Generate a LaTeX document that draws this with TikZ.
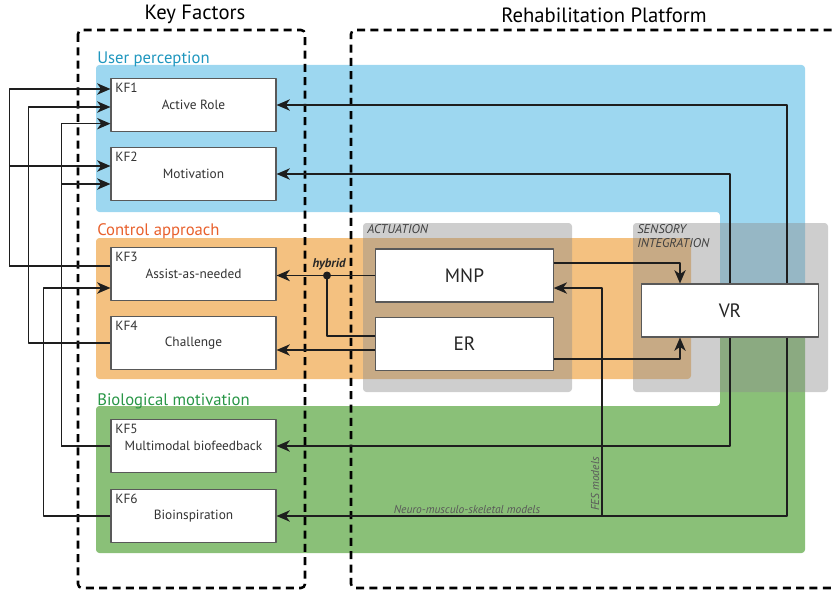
\documentclass[tikz,border=0pt]{standalone}
\usepackage{fontspec}
\setmainfont{PT Sans}
\usetikzlibrary{arrows.meta}
\definecolor{userblue}{RGB}{157,215,240}
\definecolor{ctrlorange}{RGB}{244,193,128}
\definecolor{biogreen}{RGB}{138,192,120}
\definecolor{usertext}{RGB}{30,150,190}
\definecolor{ctrltext}{RGB}{232,96,44}
\definecolor{biotext}{RGB}{40,150,70}
\definecolor{platgray}{RGB}{141,141,141}
\definecolor{wireblack}{RGB}{30,30,30}
\tikzset{
  kfbox/.style={draw=black!65,fill=white,line width=0.8pt,minimum width=123.75pt,minimum height=39.75pt,
    font=\fontsize{10}{11}\selectfont,text=black!80},
  kflabel/.style={anchor=north west,inner sep=3.5pt,font=\fontsize{10}{11}\selectfont,text=black!80},
  platbox/.style={draw=black!65,fill=white,line width=0.8pt,minimum width=133pt,minimum height=39.75pt,
    font=\fontsize{14.5}{16}\selectfont,text=black!85},
  zonelabel/.style={anchor=west,inner sep=0pt,font=\fontsize{12.5}{14}\selectfont},
  sublabel/.style={anchor=north west,inner sep=0pt,align=left,font=\fontsize{9.5}{10.5}\selectfont\itshape,text=black!75},
  modlabel/.style={inner sep=0pt,font=\fontsize{8.6}{9}\selectfont\itshape,text=black!65},
  titletext/.style={font=\fontsize{15.5}{17}\selectfont},
  wire/.style={draw=wireblack,line width=1.1pt},
  conn/.style={wire,-{Stealth[length=10pt,width=8.5pt,inset=3pt]}},
  groupframe/.style={draw=black,line width=1.9pt,dash pattern=on 6pt off 4pt,rounded corners=3pt}
}
\begin{document}
\begin{tikzpicture}[x=0.75pt,y=-0.75pt,line join=round]
\useasboundingbox (0,0) rectangle (833,592);
% zones
\fill[userblue,rounded corners=2.5pt] (96,65) -- (805,65) -- (805,315) -- (720,315) -- (720,212) -- (96,212) -- cycle;
\fill[biogreen,rounded corners=2.5pt] (96,406) -- (720,406) -- (720,315) -- (805,315) -- (805,553) -- (96,553) -- cycle;
\fill[ctrlorange,rounded corners=2.5pt] (96,238) rectangle (691,379);
\fill[platgray,opacity=0.43,rounded corners=2.5pt] (363,223) rectangle (572,392);
\fill[platgray,opacity=0.43,rounded corners=2.5pt] (633,223) rectangle (828,392);
\node[zonelabel,text=usertext] (upl) at (97,59) {User perception};
\node[zonelabel,text=ctrltext] (cal) at (97,231) {Control approach};
\node[zonelabel,text=biotext] (bml) at (97,401) {Biological motivation};
\node[sublabel] (act) at (367,224) {ACTUATION};
\node[sublabel] (sens) at (637,224) {SENSORY\\INTEGRATION};
% frames
\node[titletext] (kftitle) at (195,14) {Key Factors};
\node[titletext] (rptitle) at (604,15) {Rehabilitation Platform};
\draw[groupframe] (78,30) rectangle (305,588);
\draw[groupframe] (845,30) -- (351,30) -- (351,588) -- (845,588);
% key factors
\node[kfbox] (kf1) at (193.5,105) {Active Role};
\node[kflabel] at (kf1.north west) {KF1};
\node[kfbox] (kf2) at (193.5,174) {Motivation};
\node[kflabel] at (kf2.north west) {KF2};
\node[kfbox] (kf3) at (193.5,274) {Assist-as-needed};
\node[kflabel] at (kf3.north west) {KF3};
\node[kfbox] (kf4) at (193.5,343) {Challenge};
\node[kflabel] at (kf4.north west) {KF4};
\node[kfbox] (kf5) at (193.5,446) {Multimodal biofeedback};
\node[kflabel] at (kf5.north west) {KF5};
\node[kfbox] (kf6) at (193.5,516) {Bioinspiration};
\node[kflabel] at (kf6.north west) {KF6};
% platform
\node[platbox] (mnp) at (464.5,275.5) {MNP};
\node[platbox] (er) at (464.5,344) {ER};
\node[platbox] (vr) at (730,310.5) {VR};
% left loops
\draw[conn] ([yshift=6pt]kf3.west) -- ++(-101,0) |- ([yshift=12pt]kf1.west);
\draw[conn] ([yshift=6pt]kf3.west) -- ++(-101,0) |- ([yshift=6pt]kf2.west);
\draw[conn] (kf4.west) -- ++(-82,0) |- ([yshift=-1.5pt]kf1.west);
\draw[conn] (kf5.west) -- ++(-49,0) |- ([yshift=-14pt]kf1.west);
\draw[conn] (kf5.west) -- ++(-49,0) |- ([yshift=-7.5pt]kf2.west);
\draw[conn] (kf6.west) -- ++(-67,0) |- ([yshift=-10.5pt]kf3.west);
% from VR
\draw[conn] ([xshift=42.75pt]vr.north) |- (kf1.east);
\draw[conn] ([xshift=42.75pt]vr.south) |- (kf6.east);
\draw[conn] (vr.north) |- (kf2.east);
\draw[conn] (vr.south) |- (kf5.east);
\coordinate (fes) at (602,516);
\draw[conn] (fes) |- ([yshift=-9.4pt]mnp.east);
\draw[conn] ([yshift=9.4pt]mnp.east) -| ([xshift=-37.5pt]vr.north);
\draw[conn] ([yshift=-11.25pt]er.east) -| ([xshift=-37.5pt]vr.south);
% hybrid
\draw[conn] (mnp.west) -- (mnp.west -| kf3.east);
\coordinate (hyb) at (327,275.5);
\fill[wireblack] (hyb) circle (3pt);
\draw[wire] (hyb) |- ([yshift=6pt]er.west);
\node[font=\fontsize{9.5}{10}\selectfont\bfseries\itshape,text=black!85] (hyblbl) at (329,264) {hybrid};
\draw[conn] ([yshift=-4.5pt]er.west) -- ([yshift=-4.5pt]er.west -| kf4.east);
\node[modlabel] (nmsm) at (467,509) {Neuro-musculo-skeletal models};
\node[modlabel,rotate=90] (fesm) at (595,484) {FES models};
\end{tikzpicture}
\end{document}
